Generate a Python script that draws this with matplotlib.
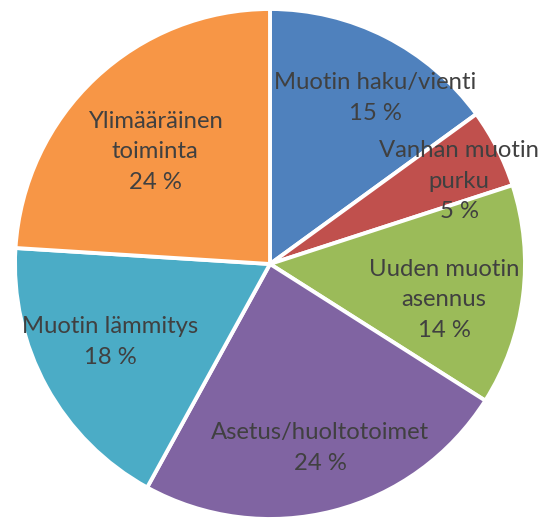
import matplotlib
matplotlib.use('Agg')
import matplotlib.pyplot as plt

# slices, clockwise from 12 o'clock
categories = ['Muotin haku/vienti', 'Vanhan muotin\npurku', 'Uuden muotin\nasennus',
              'Asetus/huoltotoimet', 'Muotin lämmitys', 'Ylimääräinen\ntoiminta']
shares = [15, 5, 14, 24, 18, 24]
colors = ['#4F81BD', '#C0504D', '#9BBB59', '#8064A2', '#4BACC6', '#F79646']

# label centres, pixels relative to pie centre (x right, y up)
label_pos = [(105, 166), (189, 83), (174, -36), (50, -184), (-160, -78), (-115, 112)]

W, H = 538, 518
cx, cy = 270, 264
R = 255

fig = plt.figure(figsize=(W / 100, H / 100), dpi=100)
ax = fig.add_axes([0, 0, 1, 1])
ax.pie(shares, colors=colors, startangle=90, counterclock=False, radius=R,
       wedgeprops=dict(edgecolor='white', linewidth=2.8))

for name, val, (x, y) in zip(categories, shares, label_pos):
    ax.text(x, y, name + '\n' + str(val) + ' %', ha='center', va='center',
            fontsize=17.2, family='Lato', color='#404040', linespacing=1.55)

ax.set_xlim(-cx, W - cx)
ax.set_ylim(-(H - cy), cy)
ax.set_aspect('equal')
ax.axis('off')
fig.savefig('out.png', dpi=100)
